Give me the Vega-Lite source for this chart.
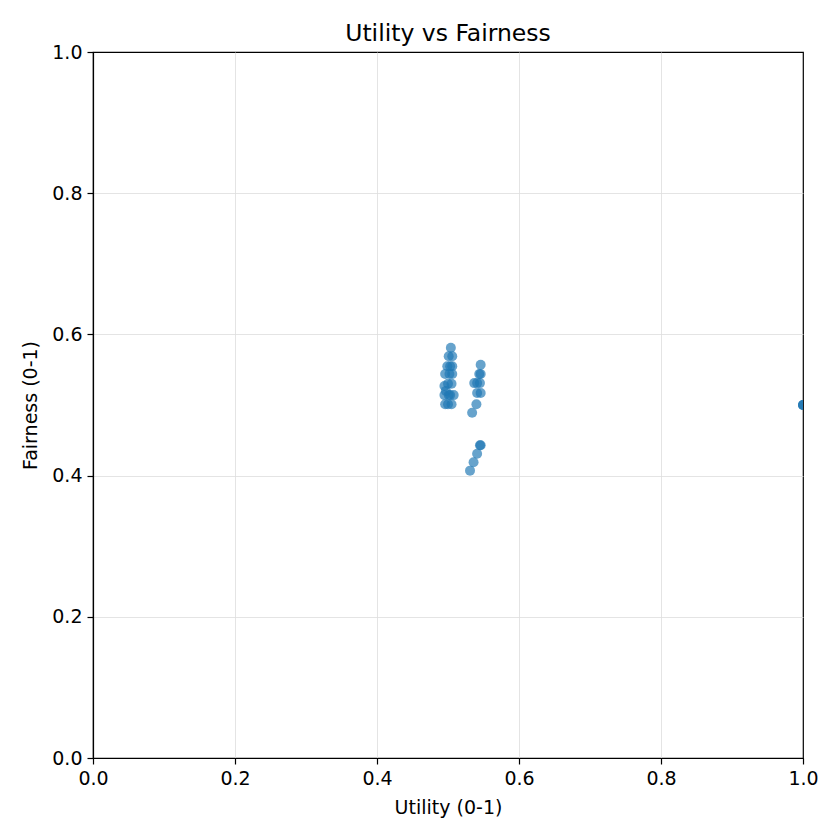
{
  "$schema": "https://vega.github.io/schema/vega-lite/v6.json",
  "width": 710,
  "height": 706,
  "autosize": {"type": "none"},
  "padding": {"left": 93, "top": 52, "right": 37, "bottom": 82},
  "background": "white",
  "title": {"text": "Utility vs Fairness", "font": "DejaVu Sans", "fontSize": 23.5, "fontWeight": "normal", "color": "black", "offset": -2},
  "config": {
    "view": {"stroke": "black", "strokeWidth": 1.2},
    "axis": {
      "labelFont": "DejaVu Sans", "labelFontSize": 19, "labelColor": "black", "labelFlush": false,
      "titleFont": "DejaVu Sans", "titleFontSize": 19, "titleFontWeight": "normal", "titleColor": "black",
      "tickColor": "black", "tickSize": 6, "domainColor": "black", "domainWidth": 1.2, "tickWidth": 1.2,
      "gridColor": "#dddddd", "gridOpacity": {"condition": {"test": "datum.value == 0 || datum.value == 1", "value": 0}, "value": 0.8},
      "labelPadding": 5
    }
  },
  "data": {"values": [
    {"u": 0.504, "f": 0.581}, {"u": 0.501, "f": 0.569}, {"u": 0.506, "f": 0.569},
    {"u": 0.503, "f": 0.555}, {"u": 0.499, "f": 0.555}, {"u": 0.506, "f": 0.555},
    {"u": 0.502, "f": 0.544}, {"u": 0.496, "f": 0.544}, {"u": 0.506, "f": 0.544},
    {"u": 0.500, "f": 0.530}, {"u": 0.495, "f": 0.527}, {"u": 0.505, "f": 0.530},
    {"u": 0.501, "f": 0.514}, {"u": 0.495, "f": 0.514}, {"u": 0.508, "f": 0.514},
    {"u": 0.500, "f": 0.501}, {"u": 0.496, "f": 0.501}, {"u": 0.505, "f": 0.501},
    {"u": 0.503, "f": 0.514}, {"u": 0.497, "f": 0.520},
    {"u": 0.546, "f": 0.557}, {"u": 0.544, "f": 0.544}, {"u": 0.546, "f": 0.544},
    {"u": 0.541, "f": 0.531}, {"u": 0.537, "f": 0.531}, {"u": 0.545, "f": 0.531},
    {"u": 0.541, "f": 0.517}, {"u": 0.546, "f": 0.517}, {"u": 0.540, "f": 0.501},
    {"u": 0.534, "f": 0.489}, {"u": 0.546, "f": 0.443}, {"u": 0.545, "f": 0.443},
    {"u": 0.541, "f": 0.431}, {"u": 0.536, "f": 0.419}, {"u": 0.531, "f": 0.407},
    {"u": 1.0, "f": 0.5}, {"u": 1.0, "f": 0.5}, {"u": 1.0, "f": 0.5}
  ]},
  "mark": {"type": "circle", "color": "#1f77b4", "opacity": 0.68, "size": 100, "clip": true},
  "encoding": {
    "x": {"field": "u", "type": "quantitative", "title": "Utility (0-1)",
          "scale": {"domain": [0, 1], "nice": false, "zero": false},
          "axis": {"values": [0, 0.2, 0.4, 0.6, 0.8, 1.0], "format": ".1f", "titlePadding": 10}},
    "y": {"field": "f", "type": "quantitative", "title": "Fairness (0-1)",
          "scale": {"domain": [0, 1], "nice": false, "zero": false},
          "axis": {"values": [0, 0.2, 0.4, 0.6, 0.8, 1.0], "format": ".1f", "titlePadding": 11}}
  }
}
